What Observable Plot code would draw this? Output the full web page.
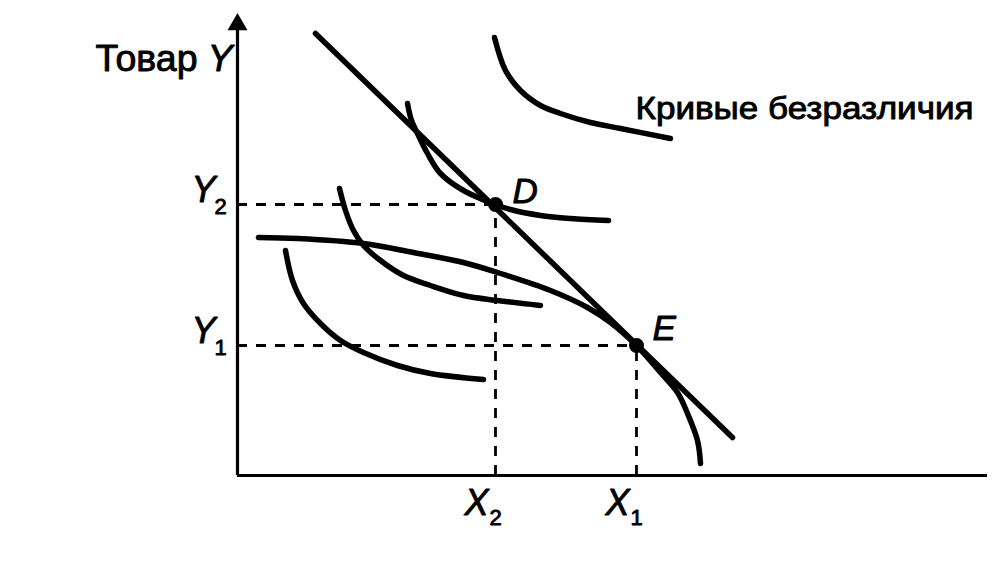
<!DOCTYPE html>
<html>
<head>
<meta charset="utf-8">
<script src="https://cdn.jsdelivr.net/npm/d3@7"></script>
<script src="https://cdn.jsdelivr.net/npm/@observablehq/plot@0.6"></script>
<style>
  html, body { margin: 0; padding: 0; background: #fff; }
  #chart svg { display: block; }
</style>
</head>
<body>
<div id="chart"></div>
<script>
// ---- data (chart units: 1 unit ≈ 10 px) ----
const axisXMax = 75;
const axisYMax = 44.5;
const axisYArrowTip = 46.2;

const budgetX = [7.8, 49.5];
const budgetY = [44.2, 3.8];

const icTopX = [25.7, 26.8, 28.3, 30.3, 32.3, 35.3, 38.3, 43.3];
const icTopY = [43.8, 40.5, 38.5, 37.0, 36.2, 35.3, 34.7, 33.7];

const icDX = [17.0, 17.4, 18.0, 19.0, 20.3, 22.6, 25.8, 27.3, 30.3, 33.3, 37.1];
const icDY = [37.2, 35.5, 34.2, 32.2, 30.2, 28.5, 27.1, 26.6, 26.0, 25.7, 25.5];

const icMidX = [10.2, 10.8, 11.6, 12.6, 14.3, 16.6, 19.3, 22.6, 26.0, 30.3];
const icMidY = [28.7, 26.5, 24.5, 23.0, 21.5, 20.0, 19.0, 18.0, 17.5, 17.0];

const icLowX = [4.8, 5.5, 6.6, 8.3, 10.3, 12.6, 16.0, 19.3, 24.6];
const icLowY = [22.5, 19.5, 17.2, 15.2, 13.5, 12.3, 11.0, 10.2, 9.6];

const ppfX = [2.1, 6.0, 12.6, 17.6, 22.6, 26.3, 31.3, 35.0, 37.3, 39.9, 42.3, 44.0, 45.0, 46.0, 46.3];
const ppfY = [23.8, 23.7, 23.2, 22.3, 21.3, 20.2, 18.5, 16.8, 15.3, 13.0, 10.3, 8.3, 6.2, 3.5, 1.2];

const pointNames = ["D", "E"];
const pointX = [25.8, 39.9];
const pointY = [27.1, 13.0];

const yTickMain = ["Y", "Y"];
const yTickSub = ["2", "1"];
const xTickMain = ["X", "X"];
const xTickSub = ["2", "1"];

const axisTitleWord = "Товар";
const axisTitleVar = "Y";
const curvesLabel = "Кривые безразличия";
const curvesLabelX = 39.8;
const curvesLabelY = 35.7;
const axisTitleY = 40.5;

// ---- build tables ----
const zip = (xs, ys) => xs.map((x, i) => ({x, y: ys[i]}));
const curves = [
  zip(budgetX, budgetY),
  zip(icTopX, icTopY),
  zip(icDX, icDY),
  zip(icMidX, icMidY),
  zip(icLowX, icLowY),
  zip(ppfX, ppfY)
];
const points = pointNames.map((name, i) => ({name, x: pointX[i], y: pointY[i], main: yTickMain[i], sub: yTickSub[i], xmain: xTickMain[i], xsub: xTickSub[i]}));
const font = "'Liberation Sans', Arial, sans-serif";
const ink = {fill: "#000", stroke: "#000", strokeWidth: 0.9};

const lineMarks = curves.map(c => Plot.line(c, {x: "x", y: "y", curve: "catmull-rom", stroke: "#000", strokeWidth: 5.5, strokeLinecap: "round"}));

const chart = Plot.plot({
  width: 997,
  height: 562,
  marginLeft: 237,
  marginRight: 10,
  marginTop: 15,
  marginBottom: 87,
  style: {background: "#fff", fontFamily: font},
  x: {domain: [0, 75], axis: null},
  y: {domain: [0, 46], axis: null},
  marks: [
    // axes
    Plot.ruleY([0], {x1: 0, x2: axisXMax, stroke: "#000", strokeWidth: 3.2}),
    Plot.ruleX([0], {y1: 0, y2: axisYMax, stroke: "#000", strokeWidth: 3.2}),
    Plot.dot([{x: 0, y: axisYArrowTip}], {x: "x", y: "y", symbol: "triangle", r: 7.4, fill: "#000", dy: 11}),
    // dashed guides
    Plot.ruleY(points, {y: "y", x1: 0, x2: "x", stroke: "#000", strokeWidth: 2.8, strokeDasharray: "10,9"}),
    Plot.ruleX(points, {x: "x", y1: 0, y2: "y", stroke: "#000", strokeWidth: 2.8, strokeDasharray: "10,9"}),
    // curves
    ...lineMarks,
    // points
    Plot.dot(points, {x: "x", y: "y", r: 7.5, fill: "#000"}),
    Plot.text(points.slice(0, 1), {x: "x", y: "y", text: "name", fontSize: 35, fontStyle: "italic", textAnchor: "start", lineAnchor: "bottom", dx: 17, dy: -2, ...ink}),
    Plot.text(points.slice(1), {x: "x", y: "y", text: "name", fontSize: 35, fontStyle: "italic", textAnchor: "start", lineAnchor: "bottom", dx: 16, dy: -6, ...ink}),
    // tick labels Y
    Plot.text(points, {x: 0, y: "y", text: "main", fontSize: 36, fontStyle: "italic", textAnchor: "end", lineAnchor: "bottom", dx: -22, dy: -3, ...ink}),
    Plot.text(points, {x: 0, y: "y", text: "sub", fontSize: 22, textAnchor: "start", lineAnchor: "bottom", dx: -23, dy: 9, ...ink}),
    // tick labels X
    Plot.text(points, {x: "x", y: 0, text: "xmain", fontSize: 36, fontStyle: "italic", textAnchor: "end", lineAnchor: "bottom", dx: -7, dy: 39, ...ink}),
    Plot.text(points, {x: "x", y: 0, text: "xsub", fontSize: 22, textAnchor: "start", lineAnchor: "bottom", dx: -6, dy: 49, ...ink}),
    // axis title
    Plot.text([axisTitleWord], {x: 0, y: axisTitleY, text: d => d, fontSize: 37, textAnchor: "end", lineAnchor: "bottom", dx: -40, className: "axis-word", ...ink}),
    Plot.text([axisTitleVar], {x: 0, y: axisTitleY, text: d => d, fontSize: 37, fontStyle: "italic", textAnchor: "end", lineAnchor: "bottom", dx: -5, ...ink}),
    // curves label
    Plot.text([curvesLabel], {x: curvesLabelX, y: curvesLabelY, text: d => d, fontSize: 31, textAnchor: "start", lineAnchor: "bottom", className: "curves-label", ...ink})
  ]
});
document.getElementById("chart").appendChild(chart);
d3.select(chart).selectAll(".curves-label text").attr("textLength", 338).attr("lengthAdjust", "spacingAndGlyphs");
d3.select(chart).selectAll(".axis-word text").attr("textLength", 102).attr("lengthAdjust", "spacingAndGlyphs");
</script>
</body>
</html>
